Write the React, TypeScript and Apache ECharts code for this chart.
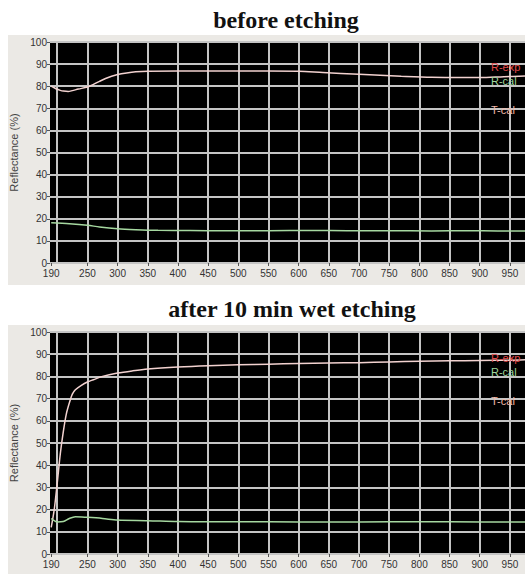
import React, { useEffect, useRef } from "react";
import * as echarts from "echarts";

// ---- data ----
const xLabelValues = [190, 250, 300, 350, 400, 450, 500, 550, 600, 650, 700, 750, 800, 850, 900, 950];
const xGridValues = [200, 250, 300, 350, 400, 450, 500, 550, 600, 650, 700, 750, 800, 850, 900, 950];

const topWl = [190, 195, 200, 205, 210, 218, 225, 235, 250, 260, 270, 280, 290, 300, 315, 330, 350, 400, 450, 500, 550, 600, 640, 700, 770, 820, 900, 940, 975];
const topRexp = [80, 79.3, 78.6, 78.1, 77.8, 77.6, 78.0, 78.7, 79.6, 80.8, 82.2, 83.5, 84.5, 85.3, 86.0, 86.5, 86.8, 86.9, 86.9, 86.9, 86.9, 86.8, 86.2, 85.4, 84.5, 84.0, 83.9, 84.3, 84.6];

const topGreenWl = [190, 220, 250, 270, 300, 330, 367, 420, 480, 550, 620, 680, 750, 820, 880, 930, 975];
const topRcal = [18.2, 17.8, 17.1, 16.3, 15.5, 15.1, 14.8, 14.7, 14.6, 14.6, 14.7, 14.6, 14.6, 14.5, 14.6, 14.5, 14.5];

const botWl = [190, 195, 200, 205, 210, 215, 220, 225, 230, 240, 250, 260, 275, 300, 325, 350, 400, 450, 500, 550, 600, 650, 700, 750, 800, 850, 900, 950, 975];
const botRexp = [12, 20, 32, 45, 55, 63, 68, 72, 74, 76, 77.5, 78.5, 80, 81.5, 82.5, 83.3, 84.2, 84.8, 85.2, 85.5, 85.8, 86, 86.2, 86.5, 86.8, 87, 87.2, 87.3, 87.5];

const botGreenWl = [190, 195, 200, 210, 220, 230, 250, 275, 300, 350, 400, 450, 550, 650, 750, 850, 975];
const botRcal = [16, 15, 14.4, 14.6, 16, 16.8, 16.5, 16, 15.3, 15, 14.6, 14.5, 14.5, 14.4, 14.5, 14.5, 14.4];

const legendNames = ["R-exp", "R-cal", "T-cal"];
const legendColors = ["#e04848", "#9ed69a", "#f0b8a8"];
const titles = ["before etching", "after 10 min wet etching"];

const pair = (xs: number[], ys: number[]) => xs.map((x, i) => [x, ys[i]]);

export default function App() {
  const ref = useRef<HTMLDivElement>(null);
  useEffect(() => {
    if (!ref.current) return;
    const chart = echarts.init(ref.current, undefined, { renderer: "svg" });
    const grids = [
      { left: 50, top: 42, width: 475, height: 221 },
      { left: 50, top: 332, width: 475, height: 222 },
    ];
    const xMin = 188;
    const xMax = 975;
    const xAxes: any[] = [];
    const yAxes: any[] = [];
    grids.forEach((g, gi) => {
      xAxes.push({
        type: "value",
        gridIndex: gi,
        min: xMin,
        max: xMax,
        position: "bottom",
        axisLine: { show: false },
        axisTick: { show: true, length: 3, customValues: xLabelValues, lineStyle: { color: "#555" } },
        axisLabel: {
          customValues: xLabelValues,
          color: "#333",
          fontSize: 10,
          fontFamily: "Liberation Sans, Arial, sans-serif",
          margin: 5,
        },
        splitLine: { show: false },
      });
      xAxes.push({
        type: "value",
        gridIndex: gi,
        min: xMin,
        max: xMax,
        position: "bottom",
        axisLine: { show: false },
        axisTick: { show: false, customValues: xGridValues },
        axisLabel: { show: false, customValues: xGridValues },
        splitLine: { show: true, lineStyle: { color: "#c4c4c4", width: 2 } },
      });
      yAxes.push({
        type: "value",
        gridIndex: gi,
        min: 0,
        max: 100,
        interval: 10,
        name: "Reflectance (%)",
        nameLocation: "middle",
        nameGap: 25,
        nameTextStyle: { color: "#444", fontSize: 11, fontFamily: "Liberation Sans, Arial, sans-serif" },
        axisLine: { show: false },
        axisTick: { show: true, length: 3, lineStyle: { color: "#555" } },
        axisLabel: { color: "#333", fontSize: 10, margin: 3, fontFamily: "Liberation Sans, Arial, sans-serif" },
        splitLine: { show: true, lineStyle: { color: "#c4c4c4", width: 2 } },
      });
    });

    const lineSeries = (gi: number, data: number[][], color: string) => ({
      type: "line",
      xAxisIndex: gi * 2,
      yAxisIndex: gi,
      data,
      showSymbol: false,
      symbol: "none",
      smooth: 0.3,
      lineStyle: { color, width: 1.5 },
      z: 5,
    });

    const legendTexts: any[] = [];
    const legendY = [
      [68, 82, 111],
      [359, 373, 402],
    ];
    legendY.forEach((ys) => {
      ys.forEach((y, i) => {
        legendTexts.push({
          type: "text",
          left: 491,
          top: y - 7,
          z: 20,
          style: {
            text: legendNames[i],
            fill: legendColors[i],
            fontSize: 11,
            fontFamily: "Liberation Sans, Arial, sans-serif",
          },
        });
      });
    });

    const titleStyle = {
      fontFamily: "Liberation Serif, Times New Roman, serif",
      fontWeight: "bold",
      fontSize: 24,
      color: "#111",
    };

    chart.setOption({
      animation: false,
      backgroundColor: "#ffffff",
      title: [
        { text: titles[0], left: 281, top: 3, textAlign: "center", textStyle: titleStyle },
        { text: titles[1], left: 287, top: 292, textAlign: "center", textStyle: titleStyle },
      ],
      graphic: [
        { type: "rect", shape: { x: 8, y: 35, width: 517, height: 250 }, style: { fill: "#ebe9e5" }, z: -10, silent: true },
        { type: "rect", shape: { x: 8, y: 325, width: 517, height: 249 }, style: { fill: "#ebe9e5" }, z: -10, silent: true },
        ...legendTexts,
      ],
      grid: grids.map((g) => ({ ...g, show: true, backgroundColor: "#000000", borderWidth: 0 })),
      xAxis: xAxes,
      yAxis: yAxes,
      series: [
        lineSeries(0, pair(topWl, topRexp), "#f2d2d0"),
        lineSeries(0, pair(topGreenWl, topRcal), "#a6d8a0"),
        lineSeries(1, pair(botWl, botRexp), "#f2d2d0"),
        lineSeries(1, pair(botGreenWl, botRcal), "#a6d8a0"),
      ],
    });
    return () => chart.dispose();
  }, []);
  return (
    <div
      ref={ref}
      style={{ position: "fixed", left: 0, top: 0, width: 525, height: 574 }}
    />
  );
}
